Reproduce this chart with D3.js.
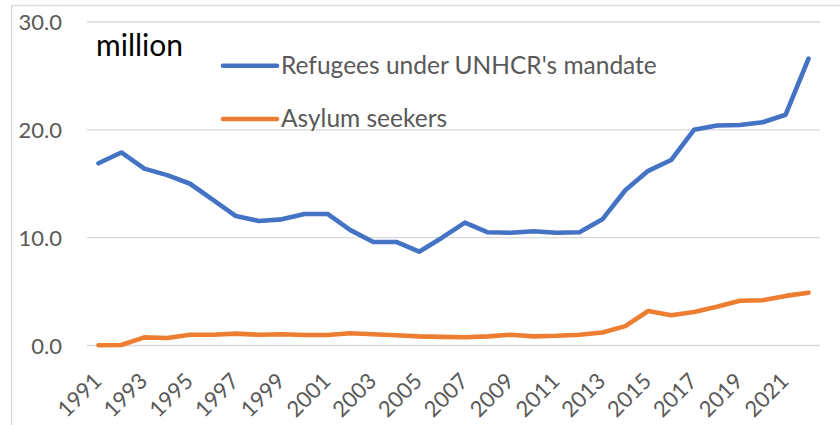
<!DOCTYPE html>
<html>
<head>
<meta charset="utf-8">
<script src="https://cdn.jsdelivr.net/npm/d3@7"></script>
<style>
  html, body { margin: 0; padding: 0; background: #fff; }
  svg { display: block; }
  text { font-family: Lato, "Open Sans", sans-serif; }
</style>
</head>
<body>
<svg id="chart" width="840" height="425"></svg>
<script>
const years = d3.range(1991, 2023);
const refugees = [16.9, 17.9, 16.4, 15.8, 15.0, 13.5, 12.0, 11.55, 11.7, 12.2, 12.2, 10.7, 9.6, 9.6, 8.7, 10.0,
                  11.4, 10.5, 10.45, 10.6, 10.45, 10.5, 11.7, 14.4, 16.2, 17.2, 20.0, 20.4, 20.45, 20.7, 21.4, 26.6];
const asylum = [0.02, 0.05, 0.75, 0.7, 1.0, 1.0, 1.1, 1.0, 1.05, 0.97, 0.97, 1.13, 1.05, 0.95, 0.85, 0.8,
                0.76, 0.85, 1.0, 0.85, 0.9, 1.0, 1.2, 1.8, 3.2, 2.8, 3.1, 3.6, 4.15, 4.2, 4.6, 4.9];
const yTicks = [0, 10, 20, 30];
const xTickLabels = years.filter((y, i) => i % 2 === 0);
const seriesNames = ["Refugees under UNHCR's mandate", "Asylum seekers"];
const seriesColors = ["#4472C4", "#ED7D31"];
const unitLabel = "million";

const svg = d3.select("#chart");
const FONT = "Lato, 'Open Sans', sans-serif";

// outer chart frame (partially visible)
svg.append("rect")
  .attr("x", 11.5).attr("y", 5.5).attr("width", 900).attr("height", 500)
  .attr("fill", "none").attr("stroke", "#D9D9D9").attr("stroke-width", 1.3);

const x = d3.scaleBand().domain(years).range([87, 820]);
const y = d3.scaleLinear().domain([0, 30]).range([345.5, 22]);

// gridlines
svg.append("g").selectAll("line").data(yTicks).join("line")
  .attr("x1", 87).attr("x2", 820)
  .attr("y1", d => y(d)).attr("y2", d => y(d))
  .attr("stroke", "#D9D9D9").attr("stroke-width", 1.3);

// y axis labels
const yAxis = d3.axisLeft(y).tickValues(yTicks).tickFormat(d3.format(".1f")).tickSize(0).tickPadding(0);
const gy = svg.append("g").attr("transform", "translate(62,0)").call(yAxis);
gy.select(".domain").remove();
gy.selectAll("text").attr("font-size", 22).attr("fill", "#595959")
  .attr("dy", "0.36em")
  .style("font-family", FONT);

// x axis labels
const xAxis = d3.axisBottom(x).tickValues(xTickLabels).tickSize(0).tickPadding(0);
const gx = svg.append("g").attr("transform", "translate(0,345.5)").call(xAxis);
gx.select(".domain").remove();
gx.selectAll("text")
  .attr("font-size", 22).attr("fill", "#595959")
  .style("font-family", FONT)
  .attr("text-anchor", "end")
  .attr("dy", "0")
  .attr("transform", "translate(4.5,37) rotate(-45)");

// lines
const line = d3.line().x((d, i) => x(years[i]) + x.bandwidth() / 2).y(d => y(d));
[refugees, asylum].forEach((s, k) => {
  svg.append("path").datum(s)
    .attr("d", line)
    .attr("fill", "none")
    .attr("stroke", seriesColors[k])
    .attr("stroke-width", 4.6)
    .attr("stroke-linejoin", "round")
    .attr("stroke-linecap", "round");
});

// unit label
svg.append("text").attr("x", 96).attr("y", 56)
  .attr("font-size", 30).attr("fill", "#000").text(unitLabel);

// legend
const legY = [65.7, 119];
seriesNames.forEach((n, k) => {
  svg.append("line").attr("x1", 223).attr("x2", 277)
    .attr("y1", legY[k]).attr("y2", legY[k])
    .attr("stroke", seriesColors[k]).attr("stroke-width", 4.6).attr("stroke-linecap", "round");
  svg.append("text").attr("x", 281).attr("y", legY[k] + 8)
    .attr("font-size", 24.5).attr("fill", "#595959").text(n);
});
</script>
</body>
</html>
